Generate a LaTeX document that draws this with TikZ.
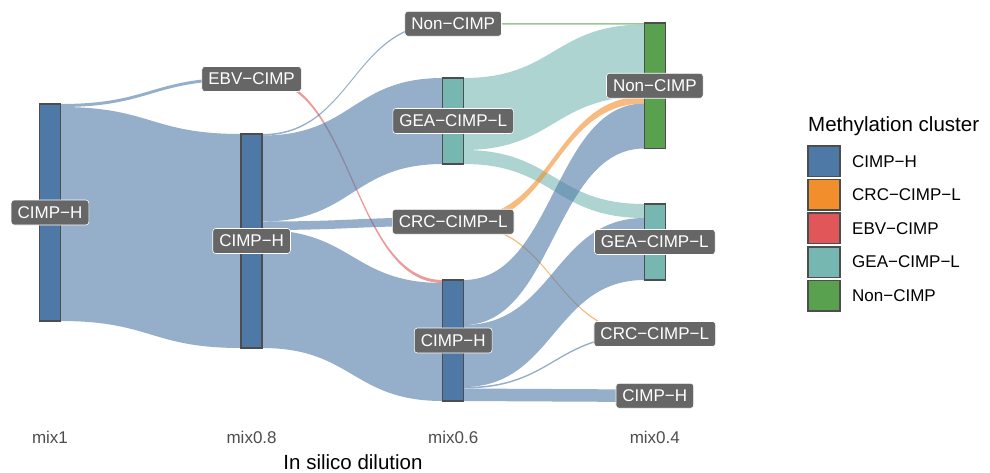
\documentclass[tikz,border=0pt]{standalone}
\usepackage{fontspec}
\setmainfont{Liberation Sans}
\usetikzlibrary{positioning}

\definecolor{cimph}{HTML}{4E79A7}
\definecolor{crccimpl}{HTML}{F28E2B}
\definecolor{ebvcimp}{HTML}{E15759}
\definecolor{geacimpl}{HTML}{76B7B2}
\definecolor{noncimp}{HTML}{59A14F}
\definecolor{edgegray}{HTML}{4D4D4D}
\definecolor{labgray}{HTML}{666666}

% ribbon: colour, x left, y1 left, y2 left, x right, y1 right, y2 right
\newcommand{\ribbon}[7]{%
  \fill[#1, fill opacity=0.6] (#2,#3) .. controls ({(#2+#5)/2},#3) and ({(#2+#5)/2},#6) .. (#5,#6)
     -- (#5,#7) .. controls ({(#2+#5)/2},#7) and ({(#2+#5)/2},#4) .. (#2,#4) -- cycle;}

\begin{document}
\begin{tikzpicture}[x=1pt,y=-1pt,
   stratum/.style={draw=edgegray, line width=1.5pt, minimum width=21, inner sep=0pt},
   lab/.style={fill=labgray, draw=white, line width=0.6pt, rounded corners=3pt, text=white,
               font=\fontsize{17}{17}\selectfont, inner xsep=6.5pt, inner ysep=0pt, minimum height=25pt},
   key/.style={draw=edgegray, line width=1.5pt, minimum width=32, minimum height=30.5, inner sep=0pt, outer sep=0pt},
   keytext/.style={font=\fontsize{17}{17}\selectfont, inner sep=0pt, anchor=west},
   tick/.style={font=\fontsize{17}{17}\selectfont, text=edgegray, anchor=base},
   ttl/.style={font=\fontsize{20.5}{20.5}\selectfont, inner sep=0pt}]

   \useasboundingbox (0,0) rectangle (990,472);

   % Flows mix1 -> mix0.8
      \ribbon{cimph}{60.5}{104}{107}{241.1}{77.5}{80.5}
      \ribbon{cimph}{60.5}{107}{321}{241.1}{134}{348}

   % Flows mix0.8 -> mix0.6
      \ribbon{ebvcimp}{262.1}{77.5}{80.5}{442.7}{280}{283}
      \ribbon{cimph}{262.1}{134}{135.5}{442.7}{23}{24.5}
      \ribbon{cimph}{262.1}{135.5}{221.5}{442.7}{78}{164}
      \ribbon{cimph}{262.1}{221.5}{230}{442.7}{217.5}{226}
      \ribbon{cimph}{262.1}{230}{348}{442.7}{283}{401}

   % Flows mix0.6 -> mix0.4
      \ribbon{noncimp}{463.7}{23}{24.5}{644.3}{23}{24.5}
      \ribbon{geacimpl}{463.7}{78}{150}{644.3}{24.5}{96.5}
      \ribbon{geacimpl}{463.7}{150}{164}{644.3}{204}{218}
      \ribbon{crccimpl}{463.7}{217.5}{224.5}{644.3}{96.5}{103.5}
      \ribbon{crccimpl}{463.7}{224.5}{226}{644.3}{332.5}{334}
      \ribbon{cimph}{463.7}{280}{325}{644.3}{103.5}{148.5}
      \ribbon{cimph}{463.7}{325}{387}{644.3}{218}{280}
      \ribbon{cimph}{463.7}{387}{388.5}{644.3}{334}{335.5}
      \ribbon{cimph}{463.7}{388.5}{401}{644.3}{389.5}{402}

   % Strata
      \node[stratum, fill=cimph,    minimum height=217]  (a1H)  at (50,212.5)    {};
      \node[stratum, fill=ebvcimp,  minimum height=3]    (a2E)  at (251.6,79)    {};
      \node[stratum, fill=cimph,    minimum height=214]  (a2H)  at (251.6,241)   {};
      \node[stratum, fill=noncimp,  minimum height=1.5]  (a3N)  at (453.2,23.75) {};
      \node[stratum, fill=geacimpl, minimum height=86]   (a3G)  at (453.2,121)   {};
      \node[stratum, fill=crccimpl, minimum height=8.5]  (a3C)  at (453.2,221.75){};
      \node[stratum, fill=cimph,    minimum height=121]  (a3H)  at (453.2,340.5) {};
      \node[stratum, fill=noncimp,  minimum height=125.5](a4N)  at (654.8,85.75) {};
      \node[stratum, fill=geacimpl, minimum height=76]   (a4G)  at (654.8,242)   {};
      \node[stratum, fill=crccimpl, minimum height=3]    (a4C)  at (654.8,334)   {};
      \node[stratum, fill=cimph,    minimum height=12.5] (a4H)  at (654.8,395.75){};

   % Labels
      \node[lab] (l1H) at (a1H) {CIMP−H};
      \node[lab] (l2E) at (a2E) {EBV−CIMP};
      \node[lab] (l2H) at (a2H) {CIMP−H};
      \node[lab] (l3N) at (a3N) {Non−CIMP};
      \node[lab] (l3G) at (a3G) {GEA−CIMP−L};
      \node[lab] (l3C) at (a3C) {CRC−CIMP−L};
      \node[lab] (l3H) at (a3H) {CIMP−H};
      \node[lab] (l4N) at (a4N) {Non−CIMP};
      \node[lab] (l4G) at (a4G) {GEA−CIMP−L};
      \node[lab] (l4C) at (a4C) {CRC−CIMP−L};
      \node[lab] (l4H) at (a4H) {CIMP−H};

   % Axis
      \node[tick] (t1) at (50,443)    {mix1};
      \node[tick] (t2) at (251.6,443) {mix0.8};
      \node[tick] (t3) at (453.2,443) {mix0.6};
      \node[tick] (t4) at (654.8,443) {mix0.4};
      \node[ttl, anchor=base] (xlab) at (353,469.5) {In silico dilution};

   % Legend
      \node[ttl, anchor=base west] (leg) at (808,131) {Methylation cluster};
      \node[key, fill=cimph]                    (k1) at (824,161.25) {};
      \node[key, fill=crccimpl, below=3.1pt of k1] (k2) {};
      \node[key, fill=ebvcimp,  below=3.1pt of k2] (k3) {};
      \node[key, fill=geacimpl, below=3.1pt of k3] (k4) {};
      \node[key, fill=noncimp,  below=3.1pt of k4] (k5) {};
      \node[keytext, right=12pt of k1] {CIMP−H};
      \node[keytext, right=12pt of k2] {CRC−CIMP−L};
      \node[keytext, right=12pt of k3] {EBV−CIMP};
      \node[keytext, right=12pt of k4] {GEA−CIMP−L};
      \node[keytext, right=12pt of k5] {Non−CIMP};
\end{tikzpicture}
\end{document}
